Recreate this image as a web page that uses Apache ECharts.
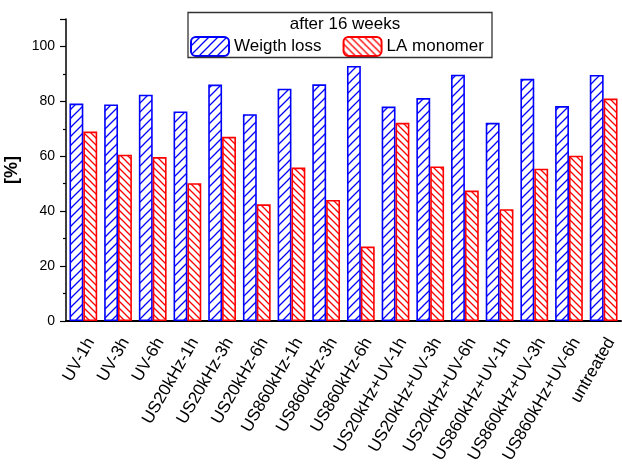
<!DOCTYPE html>
<html>
<head>
<meta charset="utf-8">
<script src="https://cdn.jsdelivr.net/npm/echarts@6/dist/echarts.min.js"></script>
<style>
html,body{margin:0;padding:0;background:#fff;}
#chart{width:622px;height:467px;}
</style>
</head>
<body>
<div id="chart"></div>
<script>
const categories = ['UV-1h','UV-3h','UV-6h','US20kHz-1h','US20kHz-3h','US20kHz-6h','US860kHz-1h','US860kHz-3h','US860kHz-6h','US20kHz+UV-1h','US20kHz+UV-3h','US20kHz+UV-6h','US860kHz+UV-1h','US860kHz+UV-3h','US860kHz+UV-6h','untreated'];
const weightLoss = [79.2,78.9,82.4,76.3,86.1,75.3,84.6,86.2,92.9,78.1,81.2,89.7,72.2,88.2,78.3,89.6];
const laMonomer = [69.0,60.6,59.7,50.2,67.1,42.5,55.9,44.1,27.1,72.2,56.3,47.5,40.7,55.5,60.2,81.0];
const yTicks = [0,20,40,60,80,100];
const seriesNames = ['Weigth loss','LA monomer'];
const legendTitle = 'after 16 weeks';
const yName = '[%]';

function hatch(color, size, forward){
  const c = document.createElement('canvas');
  c.width = size; c.height = size;
  const g = c.getContext('2d');
  g.fillStyle = '#fff'; g.fillRect(0,0,size,size);
  g.strokeStyle = color; g.lineWidth = 1.3;
  g.beginPath();
  if (forward) {
    g.moveTo(-2, size+2); g.lineTo(size+2, -2);
    g.moveTo(-2, 2); g.lineTo(2, -2);
    g.moveTo(size-2, size+2); g.lineTo(size+2, size-2);
  } else {
    g.moveTo(-2, -2); g.lineTo(size+2, size+2);
    g.moveTo(size-2, -2); g.lineTo(size+2, 2);
    g.moveTo(-2, size-2); g.lineTo(2, size+2);
  }
  g.stroke();
  return c;
}

const chart = echarts.init(document.getElementById('chart'), null, {renderer:'canvas'});
const FONT = '"Liberation Sans", Arial, sans-serif';
chart.setOption({
  animation:false,
  backgroundColor:'#fff',
  grid:{left:66,right:1,top:19,bottom:146,containLabel:false,outerBoundsMode:'none'},
  legend:{
    left:190, top:36, padding:0,
    itemWidth:38, itemHeight:19, itemGap:21,
    textStyle:{fontFamily:FONT,fontSize:17,color:'#000'},
    data:seriesNames,
    selectedMode:false
  },
  graphic:[
    {type:'rect',shape:{x:188,y:12.5,width:304,height:45},style:{fill:'none',stroke:'#333',lineWidth:1.3},z:100,silent:true},
    {type:'text',x:345,y:24,style:{text:legendTitle,font:'17px "Liberation Sans", Arial, sans-serif',fill:'#000',textAlign:'center',textVerticalAlign:'middle'},z:100}
  ],
  xAxis:[{
    type:'category', data:categories, position:'bottom',
    axisLine:{lineStyle:{color:'#000',width:2}},
    axisTick:{alignWithLabel:true,length:5,lineStyle:{color:'#000',width:1.5}},
    axisLabel:{interval:0,rotate:60,fontFamily:FONT,fontSize:17,color:'#000',margin:14,verticalAlign:'top'}
  },{
    type:'category', data:categories, position:'bottom', gridIndex:0,
    axisLine:{show:false},
    axisTick:{alignWithLabel:false,length:3,lineStyle:{color:'#000',width:1.2}},
    axisLabel:{show:false}
  }],
  yAxis:{
    type:'value', min:0, max:110, interval:20,
    name:yName, nameLocation:'middle', nameGap:45, nameRotate:90,
    nameTextStyle:{fontFamily:FONT,fontSize:18,fontWeight:'bold',color:'#000'},
    axisLine:{show:true,lineStyle:{color:'#000',width:1.5}},
    axisTick:{show:true,length:6,lineStyle:{color:'#000',width:1.2}},
    minorTick:{show:true,splitNumber:2,length:3,lineStyle:{color:'#000',width:1.2}},
    splitLine:{show:false},
    axisLabel:{fontFamily:FONT,fontSize:14,color:'#000',margin:11,showMaxLabel:false,
      formatter:function(v){return yTicks.indexOf(v)>=0?String(v):'';}}
  },
  series:[{
    name:seriesNames[0], type:'bar', data:weightLoss, xAxisIndex:0,
    barGap:'0%', barCategoryGap:'20%',
    itemStyle:{color:{image:hatch('#0000ff',9,true),repeat:'repeat'},borderColor:'#0000ff',borderWidth:1.6}
  },{
    name:seriesNames[1], type:'bar', data:laMonomer, xAxisIndex:0,
    barGap:'0%', barCategoryGap:'20%',
    itemStyle:{color:{image:hatch('#ff0000',7,false),repeat:'repeat'},borderColor:'#ff0000',borderWidth:1.6}
  }]
});
</script>
</body>
</html>
